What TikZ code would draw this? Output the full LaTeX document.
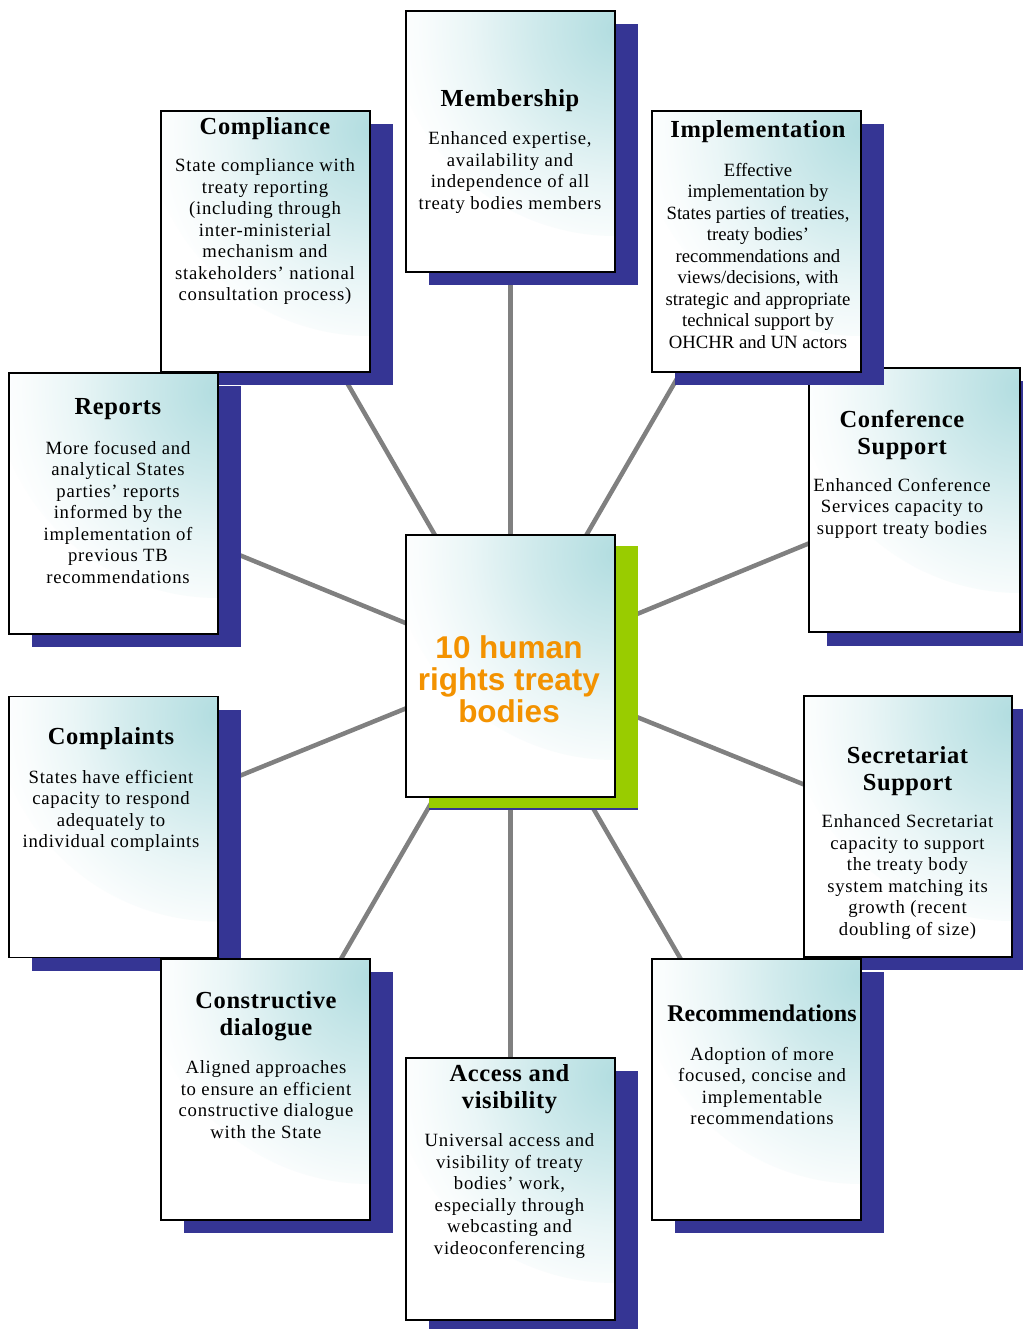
\documentclass[tikz,border=0pt]{standalone}
\usepackage{fontspec}
\setmainfont{Liberation Serif}
\newfontfamily\bodyfont[LetterSpace=4]{Liberation Serif}
\newfontfamily\ttlfont[LetterSpace=2.4]{Liberation Serif}
\newfontfamily\centerfont{Liberation Sans}
\usetikzlibrary{shadows}
\definecolor{tealc}{RGB}{178,221,224}
\definecolor{navyc}{RGB}{53,53,148}
\definecolor{limec}{RGB}{153,204,0}
\definecolor{connc}{RGB}{128,128,128}
\definecolor{orngc}{RGB}{243,146,0}
\pgfdeclareradialshading{cardshade}{\pgfpointorigin}{color(0bp)=(tealc); color(9bp)=(tealc!62!white); color(16bp)=(tealc!28!white); color(21.5bp)=(tealc!8!white); color(25bp)=(white); color(50bp)=(white)}
\pgfdeclarelayer{background}
\pgfsetlayers{background,main}
\tikzset{
  card/.style={draw=black, line width=1.4pt, fill=white, inner sep=0pt,
    minimum width=209pt, minimum height=261pt,
    path picture={\shade[shading=cardshade]
      (path picture bounding box.north east) circle (225pt);},
    drop shadow={shadow xshift=23pt, shadow yshift=-13pt, fill=navyc, opacity=1}},
  ttl/.style={font=\ttlfont\fontsize{24.5}{27.5}\selectfont\bfseries, align=center, inner sep=0pt, anchor=north},
  bdy/.style={font=\bodyfont\fontsize{18.7}{21.5}\selectfont, align=center, inner sep=0pt, anchor=north},
  conn/.style={draw=connc, line width=4.5pt}
}
\begin{document}
\begin{tikzpicture}[x=1pt,y=-1pt]
\useasboundingbox (0,0) rectangle (1022,1329);
% boxes in drawing order
\node[card] (memb) at (510.5,141.5) {};
\node[card] (compl) at (265.5,241.5) {};
\node[card, minimum width=211pt, minimum height=264pt,
  drop shadow={shadow xshift=18pt, shadow yshift=-14pt, fill=navyc, opacity=1}] (conf) at (914.5,500) {};
\node[card] (impl) at (756.5,241.5) {};
\node[card] (rep) at (113.5,503.5) {};
\node[card, minimum height=262pt,
  drop shadow={shadow xshift=23pt, shadow yshift=-11pt, fill=limec, opacity=1}] (cent) at (510.5,666) {};
\node[card] (compn) at (113.5,827) {};
\node[card, minimum width=208pt] (secr) at (908,826.5) {};
\node[card] (constr) at (265.5,1089.5) {};
\node[card] (recom) at (756.5,1089.5) {};
\node[card, minimum height=262pt] (acc) at (510.5,1189) {};
% connectors
\begin{pgfonlayer}{background}
\foreach \b in {memb,compl,impl,rep,conf,compn,secr,constr,recom,acc}
  \draw[conn] (cent.center) -- (\b.center);
\end{pgfonlayer}
% texts
\node[ttl] (membT) at (510,89) {Membership};
\node[bdy] (membB) at (510,131.8) {Enhanced expertise,\\availability and\\independence of all\\treaty bodies members};
\node[ttl] (complT) at (265,117) {Compliance};
\node[bdy] (complB) at (265,158.8) {State compliance with\\treaty reporting\\(including through\\inter-ministerial\\mechanism and\\stakeholders’ national\\consultation process)};
\node[ttl] (implT) at (758,120) {Implementation};
\node[bdy, font=\rmfamily\fontsize{18.7}{21.5}\selectfont] (implB) at (758,162.8) {Effective\\implementation by\\States parties of treaties,\\treaty bodies’\\recommendations and\\views/decisions, with\\strategic and appropriate\\technical support by\\OHCHR and UN actors};
\node[ttl] (repT) at (118,398) {Reports};
\node[bdy] (repB) at (118,440.8) {More focused and\\analytical States\\parties’ reports\\informed by the\\implementation of\\previous TB\\recommendations};
\node[ttl] (confT) at (902,410) {Conference\\Support};
\node[bdy] (confB) at (902,477.8) {Enhanced Conference\\Services capacity to\\support treaty bodies};
\node[font=\centerfont\bfseries\fontsize{31.5}{32}\selectfont, text=orngc, align=center, inner sep=0pt, anchor=north] (centT) at (509,635) {10 human\\rights treaty\\bodies};
\node[ttl] (compnT) at (111,727) {Complaints};
\node[bdy] (compnB) at (111,769.8) {States have efficient\\capacity to respond\\adequately to\\individual complaints};
\node[ttl] (secrT) at (907.5,746) {Secretariat\\Support};
\node[bdy] (secrB) at (907.5,814.8) {Enhanced Secretariat\\capacity to support\\the treaty body\\system matching its\\growth (recent\\doubling of size)};
\node[ttl] (constrT) at (266,991) {Constructive\\dialogue};
\node[bdy] (constrB) at (266,1060.8) {Aligned approaches\\to ensure an efficient\\constructive dialogue\\with the State};
\node[ttl, font=\rmfamily\fontsize{24}{27.5}\selectfont\bfseries] (recomT) at (762,1005) {Recommendations};
\node[bdy] (recomB) at (762,1046.8) {Adoption of more\\focused, concise and\\implementable\\recommendations};
\node[ttl] (accT) at (509.5,1064) {Access and\\visibility};
\node[bdy] (accB) at (509.5,1133.8) {Universal access and\\visibility of treaty\\bodies’ work,\\especially through\\webcasting and\\videoconferencing};
\end{tikzpicture}
\end{document}
